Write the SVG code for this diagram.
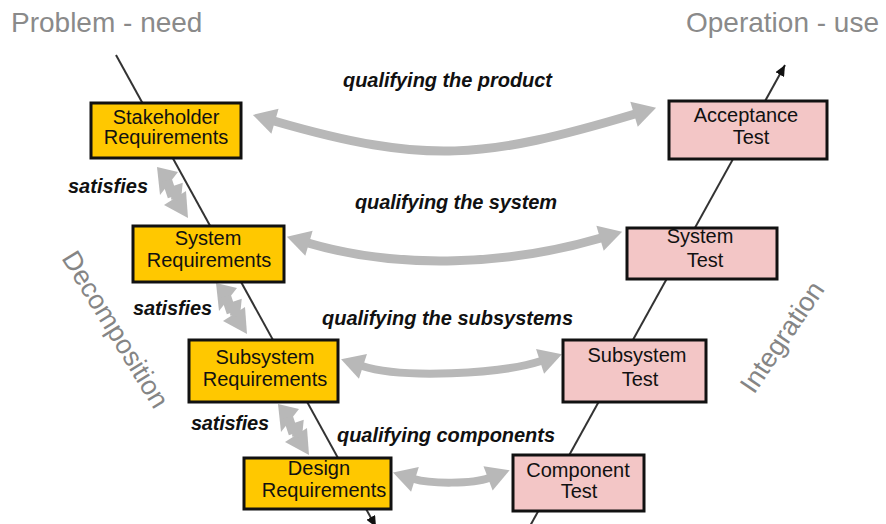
<svg xmlns="http://www.w3.org/2000/svg" width="886" height="524" viewBox="0 0 886 524">
  <style>
    .title { font-family: "Liberation Sans", Arial, sans-serif; font-size: 28px; fill: #8a8a8a; }
    .phase { font-family: "Liberation Sans", Arial, sans-serif; font-size: 27px; fill: #858585; }
    .label { font-family: "Liberation Sans", Arial, sans-serif; font-size: 20px; font-weight: bold; font-style: italic; fill: #111; }
    .boxtext { font-family: "Liberation Sans", Arial, sans-serif; font-size: 20px; fill: #111; text-anchor: middle; }
    .req { fill: #ffc800; stroke: #111; stroke-width: 3; }
    .test { fill: #f3c6c6; stroke: #111; stroke-width: 3; }
    .vline { fill: none; stroke: #333; stroke-width: 2; }
    .qual { fill: none; stroke: #b8b8b8; }
    .sat { fill: #b8b8b8; }
  </style>
  <defs>
    <marker id="grayHead" markerUnits="userSpaceOnUse" markerWidth="26" markerHeight="28" refX="1" refY="13" orient="auto-start-reverse" viewBox="0 0 26 28" overflow="visible">
      <path d="M0,0 L23,13 L0,26 z" fill="#b8b8b8"/>
    </marker>
    <marker id="blackHead" markerUnits="userSpaceOnUse" markerWidth="12" markerHeight="10" refX="11" refY="5" orient="auto" viewBox="0 0 12 10">
      <path d="M0,0 L11,5 L0,10 z" fill="#111"/>
    </marker>
    <!-- zigzag double arrow used for "satisfies" -->
    <g id="satArrow">
      <path class="sat" d="M0,0 L21,5 L3,28 z"/>
      <path class="sat" d="M31,51 L7,38 L29,24 z"/>
      <path d="M10,13 L14,25 L20,23 L19,33" fill="none" stroke="#b8b8b8" stroke-width="10" stroke-linejoin="miter"/>
    </g>
  </defs>

  <!-- headings -->
  <text class="title" x="11" y="32">Problem - need</text>
  <text class="title" x="879" y="32" text-anchor="end">Operation - use</text>
  <text class="phase" x="61" y="258" transform="rotate(58.5 61 258)">Decomposition</text>
  <text class="phase" x="754" y="395" transform="rotate(-56 754 395)">Integration</text>

  <!-- connectors -->
  <g id="connectors">
    <path class="vline" d="M116,55 L376,527" marker-end="url(#blackHead)"/>
    <path class="vline" d="M530,526 L785,65" marker-end="url(#blackHead)"/>

    <path class="qual" stroke-width="9" d="M274,121 C426,165 484,159 635,114" marker-start="url(#grayHead)" marker-end="url(#grayHead)"/>
    <path class="qual" stroke-width="9" d="M308,243 C400,270 509,265 601,238" marker-start="url(#grayHead)" marker-end="url(#grayHead)"/>
    <path class="qual" stroke-width="8" d="M362,366 C402,379 501,374 541,361" marker-start="url(#grayHead)" marker-end="url(#grayHead)"/>
    <path class="qual" stroke-width="8" d="M414,479 C430,484 473,484 489,478" marker-start="url(#grayHead)" marker-end="url(#grayHead)"/>

    <use href="#satArrow" x="157" y="167"/>
    <use href="#satArrow" x="216" y="283"/>
    <use href="#satArrow" x="278" y="404"/>
  </g>

  <!-- connector labels -->
  <text class="label" x="343" y="87" textLength="209">qualifying the product</text>
  <text class="label" x="355" y="209" textLength="202">qualifying the system</text>
  <text class="label" x="322" y="325" textLength="251">qualifying the subsystems</text>
  <text class="label" x="337" y="442" textLength="218">qualifying components</text>
  <text class="label" x="68" y="193" textLength="80">satisfies</text>
  <text class="label" x="133" y="315" textLength="79">satisfies</text>
  <text class="label" x="191" y="430" textLength="78">satisfies</text>

  <!-- requirement nodes -->
  <g id="stakeholder-requirements">
    <rect class="req" x="91" y="103" width="150" height="55"/>
    <text class="boxtext" x="166" y="124">Stakeholder</text>
    <text class="boxtext" x="166" y="144">Requirements</text>
  </g>
  <g id="system-requirements">
    <rect class="req" x="133" y="226" width="151" height="56"/>
    <text class="boxtext" x="208" y="245">System</text>
    <text class="boxtext" x="209" y="267">Requirements</text>
  </g>
  <g id="subsystem-requirements">
    <rect class="req" x="189" y="340" width="149" height="62"/>
    <text class="boxtext" x="265" y="364">Subsystem</text>
    <text class="boxtext" x="265" y="386">Requirements</text>
  </g>
  <g id="design-requirements">
    <rect class="req" x="244" y="458" width="147" height="51"/>
    <text class="boxtext" x="319" y="475">Design</text>
    <text class="boxtext" x="324" y="497">Requirements</text>
  </g>

  <!-- test nodes -->
  <g id="acceptance-test">
    <rect class="test" x="669" y="101" width="158" height="58"/>
    <text class="boxtext" x="746" y="122">Acceptance</text>
    <text class="boxtext" x="751" y="144">Test</text>
  </g>
  <g id="system-test">
    <rect class="test" x="627" y="228" width="150" height="51"/>
    <text class="boxtext" x="700" y="243">System</text>
    <text class="boxtext" x="705" y="267">Test</text>
  </g>
  <g id="subsystem-test">
    <rect class="test" x="563" y="340" width="143" height="62"/>
    <text class="boxtext" x="637" y="362">Subsystem</text>
    <text class="boxtext" x="640" y="386">Test</text>
  </g>
  <g id="component-test">
    <rect class="test" x="513" y="455" width="131" height="56"/>
    <text class="boxtext" x="578" y="477">Component</text>
    <text class="boxtext" x="579" y="498">Test</text>
  </g>
</svg>
